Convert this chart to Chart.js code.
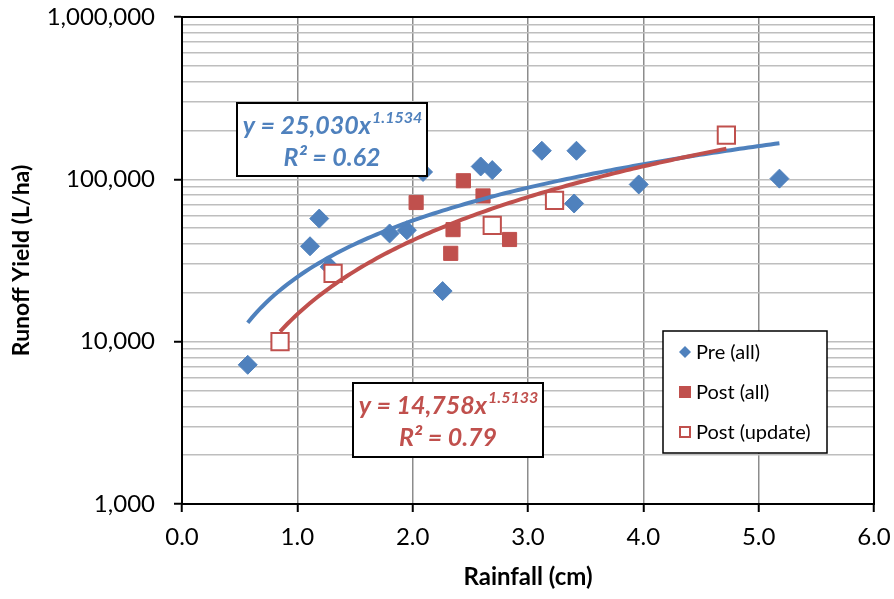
<!DOCTYPE html>
<html>
<head>
<meta charset="utf-8">
<script src="https://cdn.jsdelivr.net/npm/chart.js@4/dist/chart.umd.min.js"></script>
<style>
  body { margin: 0; background: #fff; }
  #wrap { width: 894px; height: 599px; }
</style>
</head>
<body>
<div id="wrap"><canvas id="runoffChart" width="894" height="599"></canvas></div>
<script>
// Rainfall (cm) vs runoff yield (L/ha)
const preX = [0.57, 1.11, 1.19, 1.28, 1.80, 1.95, 2.09, 2.26, 2.59, 2.69, 3.12, 3.40, 3.42, 3.96, 5.18];
const preY = [7200, 38700, 57300, 28900, 46400, 48600, 111000, 20500, 120000, 114000, 150000, 71000, 150000, 93000, 101000];

const postX = [2.03, 2.33, 2.35, 2.44, 2.61, 2.84];
const postY = [72000, 35000, 49000, 98000, 79000, 42600];

const updX = [0.85, 1.31, 2.69, 3.23, 4.72];
const updY = [10000, 26300, 52100, 74300, 187000];

// Power trendlines as printed on the chart
const preFit = { a: 25030, b: 1.1534, r2: '0.62', from: 0.57, to: 5.18 };
const postFit = { a: 14758, b: 1.5133, r2: '0.79', from: 0.85, to: 4.72 };

// Axis ticks
const yGridValues = [1000, 2000, 3000, 4000, 5000, 6000, 7000, 8000, 9000,
    10000, 20000, 30000, 40000, 50000, 60000, 70000, 80000, 90000,
    100000, 200000, 300000, 400000, 500000, 600000, 700000, 800000, 900000, 1000000];
const yLabelValues = [1000, 10000, 100000, 1000000];
const xMin = 0, xMax = 6, xStep = 1;

const BLUE = '#4F81BD';
const RED = '#C0504D';
const FONT = 'Lato';

// Build points for a trend curve from its equation
function trendPoints(fit) {
    const pts = [];
    const n = 120;
    for (let i = 0; i <= n; i++) {
        const x = fit.from + (fit.to - fit.from) * i / n;
        pts.push({ x: x, y: fit.a * Math.pow(x, fit.b) });
    }
    return pts;
}

function toPoints(xs, ys) {
    return xs.map((x, i) => ({ x: x, y: ys[i] }));
}

// Draw the equation label box
function drawEquation(ctx, fit, color, box) {
    ctx.fillStyle = '#fff';
    ctx.fillRect(box.x, box.y, box.w, box.h);
    ctx.strokeStyle = '#000';
    ctx.lineWidth = 2;
    ctx.strokeRect(box.x, box.y, box.w, box.h);

    const main = 'y = ' + fit.a.toLocaleString('en-US') + 'x';
    const sup = String(fit.b);
    ctx.fillStyle = color;
    ctx.textBaseline = 'alphabetic';
    ctx.font = 'italic bold 25px ' + FONT;
    const wMain = ctx.measureText(main).width;
    ctx.font = 'italic bold 16px ' + FONT;
    const wSup = ctx.measureText(sup).width;
    const cx = box.x + box.w / 2;
    let startX = cx - (wMain + wSup) / 2;
    ctx.textAlign = 'left';
    ctx.font = 'italic bold 25px ' + FONT;
    ctx.fillText(main, startX, box.y + 31);
    ctx.font = 'italic bold 16px ' + FONT;
    ctx.fillText(sup, startX + wMain + 1, box.y + 20);

    ctx.font = 'italic bold 25px ' + FONT;
    ctx.textAlign = 'center';
    ctx.fillText('R\u00B2 = ' + fit.r2, cx, box.y + 63);
}

// Legend box inside the plot
function drawLegend(ctx, box) {
    ctx.fillStyle = '#fff';
    ctx.fillRect(box.x, box.y, box.w, box.h);
    ctx.strokeStyle = '#000';
    ctx.lineWidth = 1.5;
    ctx.strokeRect(box.x, box.y, box.w, box.h);

    const items = [
        { label: 'Pre (all)', kind: 'diamond' },
        { label: 'Post (all)', kind: 'square' },
        { label: 'Post (update)', kind: 'hollow' }
    ];
    const mx = box.x + 22;
    ctx.font = '20px ' + FONT;
    ctx.textAlign = 'left';
    ctx.textBaseline = 'middle';
    items.forEach((item, i) => {
        const my = box.y + 21 + i * 40;
        if (item.kind === 'diamond') {
            ctx.fillStyle = BLUE;
            ctx.beginPath();
            ctx.moveTo(mx, my - 6);
            ctx.lineTo(mx + 6, my);
            ctx.lineTo(mx, my + 6);
            ctx.lineTo(mx - 6, my);
            ctx.closePath();
            ctx.fill();
        } else if (item.kind === 'square') {
            ctx.fillStyle = RED;
            ctx.fillRect(mx - 6, my - 6, 12, 12);
        } else {
            ctx.fillStyle = '#fff';
            ctx.fillRect(mx - 5, my - 5, 10, 10);
            ctx.strokeStyle = RED;
            ctx.lineWidth = 2;
            ctx.strokeRect(mx - 5, my - 5, 10, 10);
        }
        ctx.fillStyle = '#000';
        ctx.fillText(item.label, box.x + 33, my + 1);
    });
}

const overlayPlugin = {
    id: 'overlay',
    afterDraw(chart) {
        const { ctx, chartArea: a } = chart;
        ctx.save();
        // plot frame
        ctx.strokeStyle = '#000';
        ctx.lineWidth = 2;
        ctx.strokeRect(a.left, a.top, a.right - a.left, a.bottom - a.top);

        drawEquation(ctx, preFit, BLUE, { x: 237, y: 103, w: 190, h: 73 });
        drawEquation(ctx, postFit, RED, { x: 353, y: 383, w: 190, h: 74 });
        drawLegend(ctx, { x: 663, y: 331, w: 164, h: 122 });
        ctx.restore();
    }
};

const ctx = document.getElementById('runoffChart').getContext('2d');
const runoffChart = new Chart(ctx, {
    type: 'scatter',
    data: {
        datasets: [{
            label: 'Post trend',
            data: trendPoints(postFit),
            showLine: true,
            borderColor: RED,
            borderWidth: 4,
            pointRadius: 0,
            fill: false,
            order: 0
        }, {
            label: 'Pre trend',
            data: trendPoints(preFit),
            showLine: true,
            borderColor: BLUE,
            borderWidth: 4,
            pointRadius: 0,
            fill: false,
            order: 1
        }, {
            label: 'Post (update)',
            data: toPoints(updX, updY),
            pointStyle: 'rect',
            pointRadius: 12.2,
            backgroundColor: '#fff',
            borderColor: RED,
            borderWidth: 2,
            order: 2
        }, {
            label: 'Post (all)',
            data: toPoints(postX, postY),
            pointStyle: 'rect',
            pointRadius: 10,
            backgroundColor: RED,
            borderColor: RED,
            borderWidth: 1,
            order: 3
        }, {
            label: 'Pre (all)',
            data: toPoints(preX, preY),
            pointStyle: 'rectRot',
            pointRadius: 9.5,
            backgroundColor: BLUE,
            borderColor: BLUE,
            borderWidth: 1,
            order: 4
        }]
    },
    options: {
        responsive: false,
        animation: false,
        layout: {
            padding: { left: 0, right: 20, top: 17, bottom: 0 }
        },
        plugins: {
            legend: { display: false },
            tooltip: { enabled: false }
        },
        scales: {
            x: {
                type: 'linear',
                min: xMin,
                max: xMax,
                ticks: {
                    stepSize: xStep,
                    color: '#000',
                    padding: 11,
                    font: { family: FONT, size: 24 },
                    callback: (v) => Number(v).toFixed(1)
                },
                grid: {
                    color: (c) => (c.tick && (c.tick.value === xMin || c.tick.value === xMax)) ? 'rgba(0,0,0,0)' : '#8C8C8C',
                    lineWidth: 1.5,
                    tickColor: '#000',
                    tickLength: 8,
                    tickWidth: 2
                },
                border: { color: '#000', width: 2 },
                title: {
                    display: true,
                    text: 'Rainfall (cm)',
                    color: '#000',
                    font: { family: FONT, size: 24, weight: 'bold' },
                    padding: { top: 0, bottom: 7 }
                },
                afterFit: (scale) => {
                    scale.height = 95;
                    scale.paddingLeft = 0;
                    scale.paddingRight = 0;
                }
            },
            y: {
                type: 'logarithmic',
                min: 1000,
                max: 1000000,
                afterBuildTicks: (scale) => {
                    scale.ticks = yGridValues.map(v => ({ value: v }));
                },
                ticks: {
                    autoSkip: false,
                    color: '#000',
                    padding: 19,
                    font: { family: FONT, size: 24 },
                    callback: (v) => yLabelValues.includes(v) ? v.toLocaleString('en-US') : ''
                },
                grid: {
                    color: (c) => {
                        const v = c.tick && c.tick.value;
                        return (v === 1000 || v === 1000000) ? 'rgba(0,0,0,0)' : '#BEBEBE';
                    },
                    lineWidth: 1.5,
                    tickColor: (c) => yLabelValues.includes(c.tick && c.tick.value) ? '#000' : 'rgba(0,0,0,0)',
                    tickLength: 8,
                    tickWidth: 2
                },
                border: { color: '#000', width: 2 },
                title: {
                    display: true,
                    text: 'Runoff Yield (L/ha)',
                    color: '#000',
                    font: { family: FONT, size: 23, weight: 'bold' },
                    padding: { top: 8, bottom: 0 }
                },
                afterFit: (scale) => {
                    scale.width = 182;
                    scale.paddingTop = 0;
                    scale.paddingBottom = 0;
                }
            }
        }
    },
    plugins: [overlayPlugin]
});
</script>
</body>
</html>
